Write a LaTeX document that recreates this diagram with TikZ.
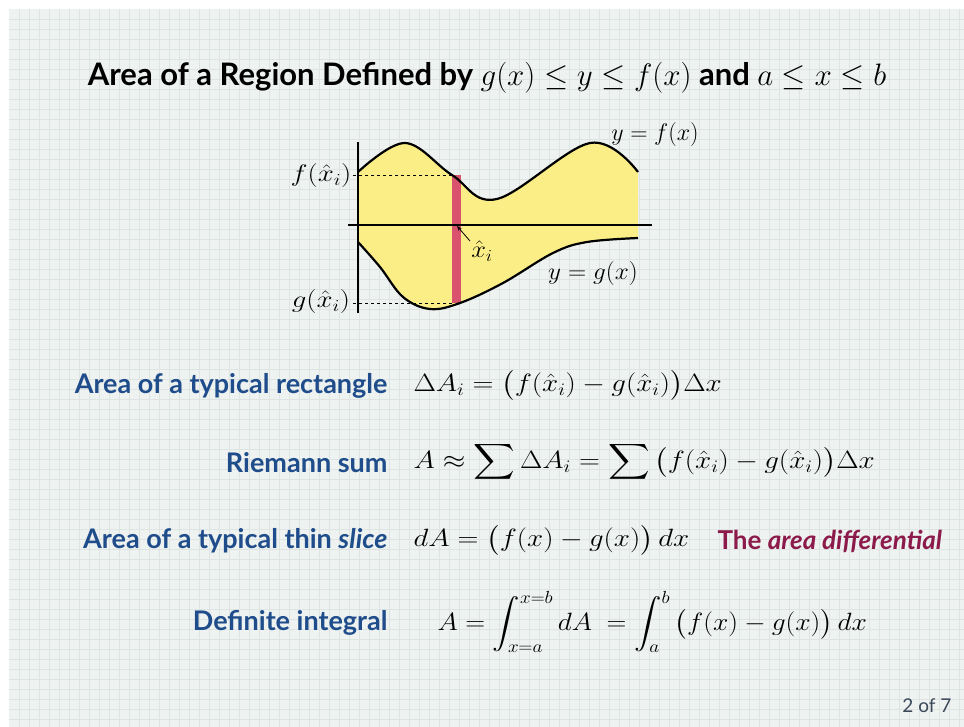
\RequirePackage{fix-cm}
\documentclass[tikz,border=0pt]{standalone}
\usepackage{amsmath}
\usepackage{graphicx}
\usepackage{fontspec}
\setmainfont{Lato}
\usetikzlibrary{arrows.meta}
\definecolor{paper}{RGB}{238,242,241}
\definecolor{gridc}{RGB}{221,228,226}
\definecolor{labblue}{RGB}{31,76,138}
\definecolor{maroon}{RGB}{140,26,75}
\definecolor{regionyellow}{RGB}{252,238,135}
\definecolor{slicered}{RGB}{217,82,110}
\definecolor{pagegray}{RGB}{58,72,90}
\newcommand{\hstretch}[1]{\scalebox{1.16}[1]{#1}}
\tikzset{
  lab/.style={anchor=east, text=labblue, font=\bfseries\fontsize{27}{32}\selectfont},
  eq/.style={anchor=west, font=\fontsize{25}{30}\selectfont},
  axislbl/.style={font=\fontsize{24}{28}\selectfont},
  curve/.style={line width=2.2pt, line join=round},
}
\begin{document}
\begin{tikzpicture}[x=1pt,y=-1pt]
\useasboundingbox (0,0) rectangle (964,727);
\fill[white] (0,0) rectangle (964,727);
\fill[paper] (9,9) rectangle (964,727);
\foreach \x in {19,29,...,964} \draw[gridc, line width=0.6pt] (\x,9) -- (\x,727);
\foreach \y in {19,29,...,727} \draw[gridc, line width=0.6pt] (9,\y) -- (964,\y);

% title
\node[font=\bfseries\fontsize{31}{36}\selectfont] (title) at (487,78)
  {Area of a Region Defined by $g(x)\leq y\leq f(x)$ and $a\leq x\leq b$};

% region
\fill[regionyellow]
  plot[smooth, tension=0.6] coordinates {(358,172) (405,143) (452,175) (497,199) (590,143) (638,172)}
  -- plot[smooth, tension=0.6] coordinates {(638,238) (587,242) (553,253) (503,283) (460,303) (430,309) (403,297) (380,267) (358,242)}
  -- cycle;
\fill[slicered] (452,175) rectangle (461,303);
\draw[curve] plot[smooth, tension=0.6] coordinates {(358,172) (405,143) (452,175) (497,199) (590,143) (638,172)};
\draw[curve] plot[smooth, tension=0.6] coordinates {(638,238) (587,242) (553,253) (503,283) (460,303) (430,309) (403,297) (380,267) (358,242)};
\coordinate (ftop) at (452,175);
\coordinate (gbot) at (452,303);
\coordinate (fl) at (353,175);
\coordinate (gl) at (353,303);
\draw[dashed, line width=0.8pt] (fl) -- (ftop);
\draw[dashed, line width=0.8pt] (gl) -- (gbot);
\coordinate (xl) at (348,225);
\coordinate (xr) at (652,225);
\coordinate (yt) at (358,142);
\coordinate (yb) at (358,313);
\draw[line width=1.2pt] (xl) -- (xr);
\draw[line width=1.2pt] (yt) -- (yb);
\coordinate (xi) at (457,226);
\node[axislbl] (fx) at (321,176) {\scalebox{1.2}[1]{$f(\hat{x}_i)$}};
\node[axislbl] (gx) at (321,302) {\scalebox{1.2}[1]{$g(\hat{x}_i)$}};
\node[axislbl] (yf) at (655,135) {$y=f(x)$};
\node[axislbl] (yg) at (593,274) {\scalebox{1.05}[1]{$y=g(x)$}};
\node[axislbl] (xh) at (482,251) {\scalebox{1.1}[1]{$\hat{x}_i$}};
\draw[-{Stealth[length=5pt]}, line width=0.8pt] (470,241) -- (xi);

% labels
\node[lab] (l1) at (391,386) {Area of a typical rectangle};
\node[lab] (l2) at (391,463) {Riemann sum};
\node[lab] (l3) at (391,541) {Area of a typical thin \textit{slice}};
\node[lab] (l4) at (391,623) {Definite integral};

\node[eq] (e1) at (410,385) {\hstretch{$\Delta A_i=\big(f(\hat{x}_i)-g(\hat{x}_i)\big)\Delta x$}};
\node[eq] (e2) at (410,462) {\hstretch{$A\approx\displaystyle\sum\Delta A_i=\sum\big(f(\hat{x}_i)-g(\hat{x}_i)\big)\Delta x$}};
\node[eq] (e3) at (410,540) {\hstretch{$dA=\big(f(x)-g(x)\big)\,dx$}};
\node[anchor=west, text=maroon, font=\bfseries\fontsize{26}{30}\selectfont] (ad) at (714,541) {The \textit{area differential}};
\node[eq] (e4) at (434,622) {\scalebox{1.1}[1]{$A=\displaystyle\int_{x=a}^{x=b} dA\ =\int_a^b\big(f(x)-g(x)\big)\,dx$}};

\node[anchor=east, text=pagegray, font=\fontsize{19}{23}\selectfont] (pg) at (955,706) {2 of 7};
\end{tikzpicture}
\end{document}
